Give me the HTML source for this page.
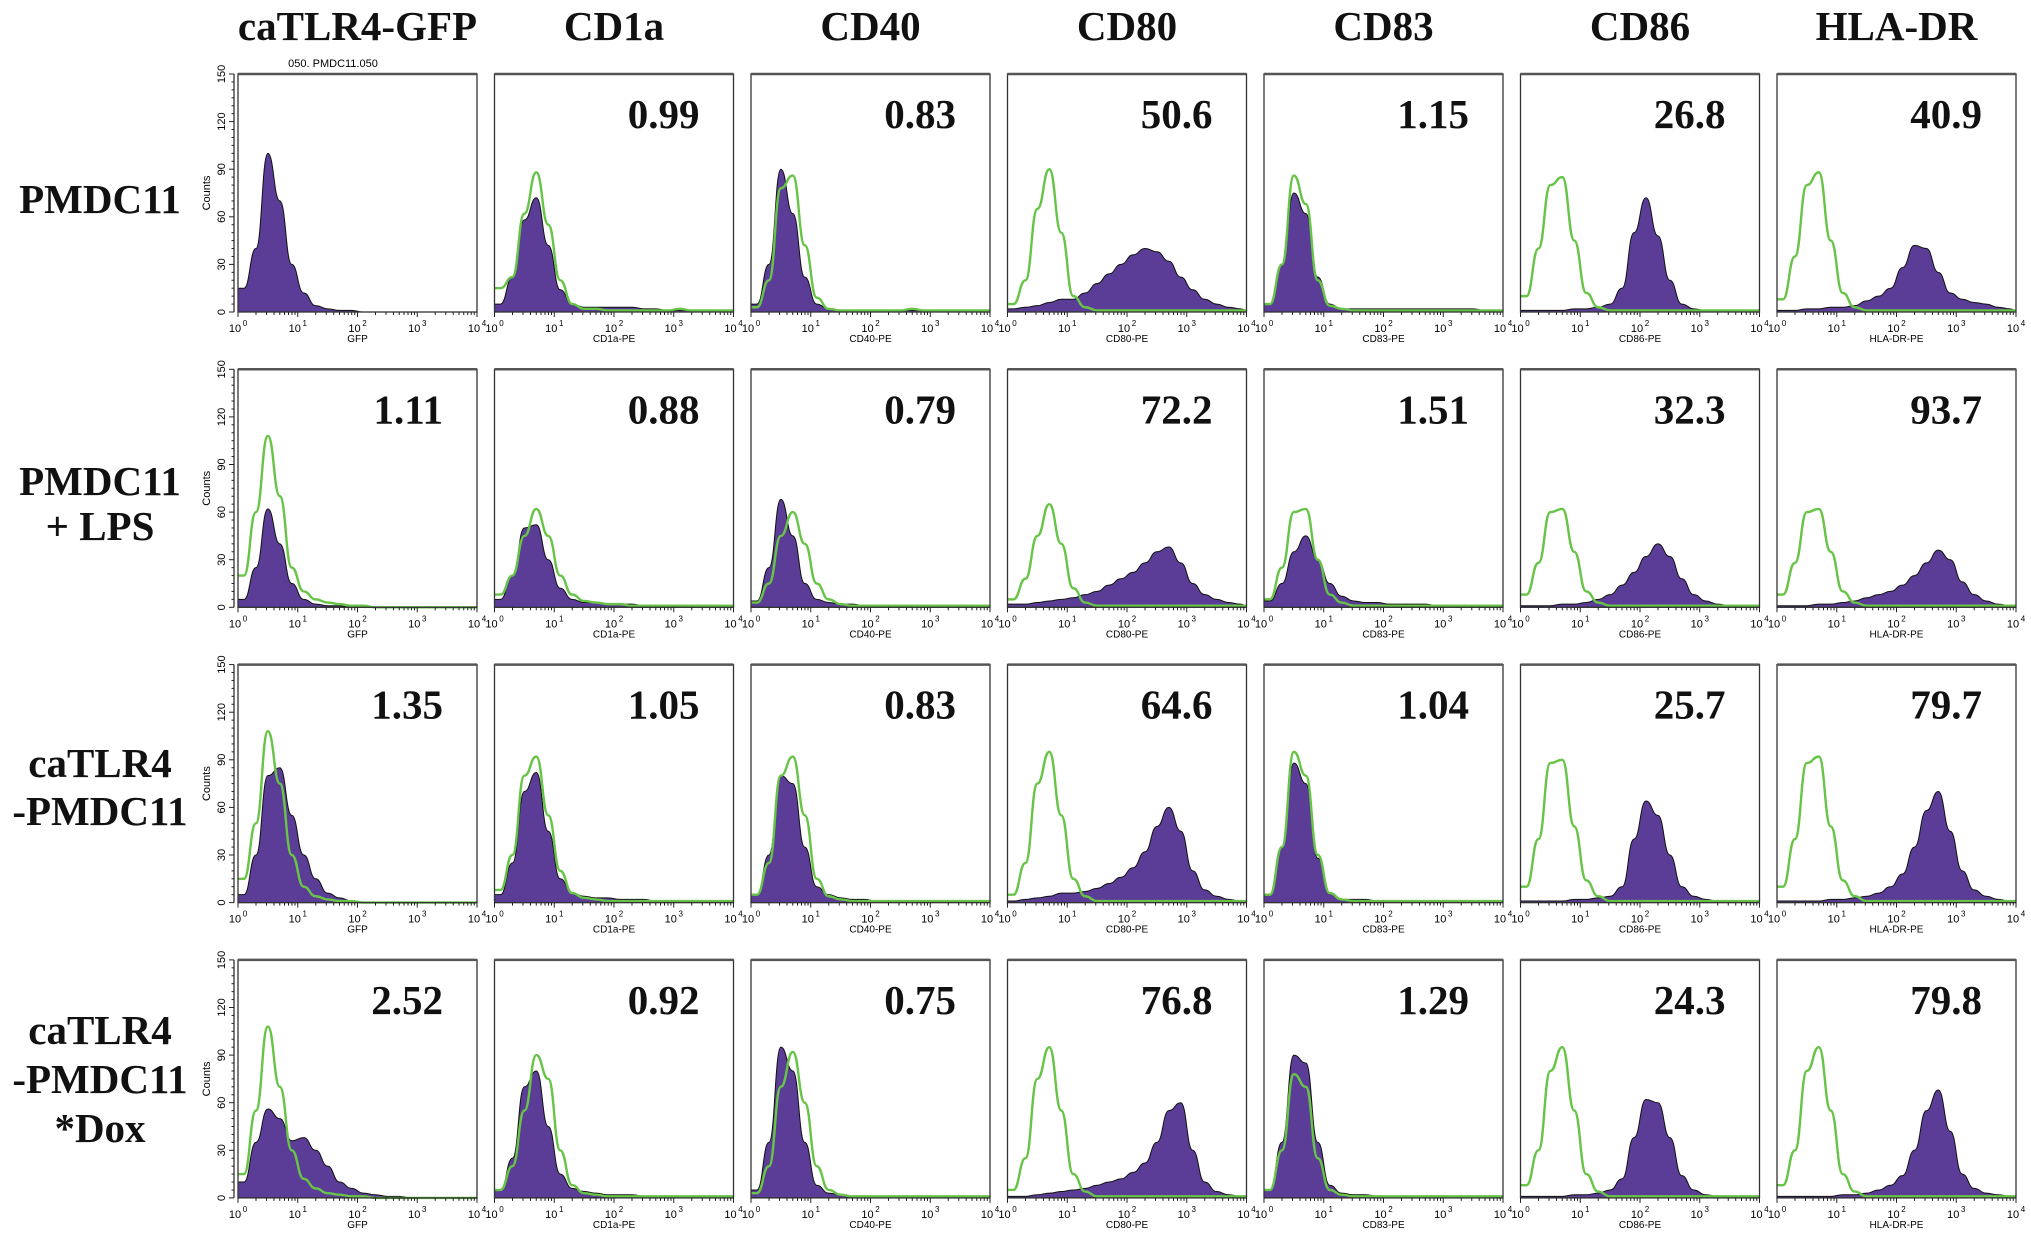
<!DOCTYPE html>
<html><head><meta charset="utf-8">
<style>
html,body{margin:0;padding:0;background:#fff;}
body{width:2031px;height:1247px;overflow:hidden;}
svg text{font-family:"Liberation Sans",sans-serif;}
.big{font-family:"Liberation Serif",serif;font-weight:bold;font-size:41px;fill:#111;}
</style></head>
<body>
<svg id="fig" width="2031" height="1247" viewBox="0 0 2031 1247" xmlns="http://www.w3.org/2000/svg"></svg>
<script>
const markers = ["caTLR4-GFP","CD1a","CD40","CD80","CD83","CD86","HLA-DR"];
const axisNames = ["GFP","CD1a-PE","CD40-PE","CD80-PE","CD83-PE","CD86-PE","HLA-DR-PE"];
const rowLabels = [["PMDC11"],["PMDC11","+ LPS"],["caTLR4","-PMDC11"],["caTLR4","-PMDC11","*Dox"]];
const percents = [
 [null,"0.99","0.83","50.6","1.15","26.8","40.9"],
 ["1.11","0.88","0.79","72.2","1.51","32.3","93.7"],
 ["1.35","1.05","0.83","64.6","1.04","25.7","79.7"],
 ["2.52","0.92","0.75","76.8","1.29","24.3","79.8"]];
const yTicks = [0,30,60,90,120,150];
const xTickLabels = ["0","1","2","3","4"];
// counts at log10 intensity 0.1,0.3,...,4.1
const fillR1 = [
 [15,40,100,70,30,12,4,2,1,1,0,0,0,0,0,0,0,0,0,0,0],
 [5,22,58,72,42,14,5,3,3,3,3,3,2,2,1,1,1,0,0,0,0],
 [5,30,90,62,22,5,2,1,1,1,1,1,1,1,1,1,0,0,0,0,0],
 [2,3,4,6,8,8,12,18,24,30,36,40,38,32,22,14,8,5,3,2,1],
 [5,30,75,62,22,5,2,2,2,2,2,2,2,2,2,2,2,2,1,1,1],
 [1,1,1,1,2,2,3,5,15,50,72,48,20,5,2,1,1,0,0,0,0],
 [1,1,2,2,3,3,4,7,10,15,28,42,40,25,12,8,6,5,3,2,1]];
const greenR1 = [
 null,
 [15,22,62,88,55,20,5,2,2,1,1,1,1,1,1,2,1,1,1,1,1],
 [3,20,78,86,42,9,2,1,1,1,1,1,1,2,1,1,1,1,1,1,1],
 [5,20,65,90,50,10,3,1,1,1,1,1,1,1,1,1,1,1,1,1,1],
 [5,30,86,68,20,4,2,1,1,1,1,1,1,1,1,1,1,1,1,1,1],
 [10,40,80,85,45,12,3,1,1,1,1,1,1,1,1,1,1,1,1,1,1],
 [8,35,80,88,45,12,3,1,1,1,1,1,1,1,1,1,1,1,1,1,1]];
const fillR2 = [
 [5,25,62,40,15,5,2,1,1,0,0,0,0,0,0,0,0,0,0,0,0],
 [5,20,50,52,30,12,5,3,3,2,2,2,1,1,1,1,0,0,0,0,0],
 [4,25,68,45,15,5,3,2,2,1,1,1,1,0,0,0,0,0,0,0,0],
 [2,2,3,4,5,6,8,10,14,18,22,28,35,38,28,15,8,5,3,2,1],
 [4,15,35,45,30,15,7,4,3,3,2,2,2,2,1,1,1,1,1,1,1],
 [1,1,1,2,2,3,5,8,14,22,32,40,32,18,8,4,2,1,1,0,0],
 [1,1,1,2,2,3,4,6,8,10,14,20,28,36,30,16,8,4,2,1,1]];
const greenR2 = [
 [20,60,108,70,25,10,5,3,2,1,1,0,0,0,0,0,0,0,0,0,0],
 [8,20,45,62,45,20,8,4,3,2,2,1,1,1,1,1,1,1,1,1,1],
 [3,15,45,60,40,15,5,2,1,1,1,1,1,1,1,1,1,1,1,1,1],
 [5,18,45,65,40,12,3,1,1,1,1,1,1,1,1,1,1,1,1,1,1],
 [5,25,60,62,30,8,3,1,1,1,1,1,1,1,1,1,1,1,1,1,1],
 [8,28,60,62,35,10,3,1,1,1,1,1,1,1,1,1,1,1,1,1,1],
 [8,28,60,62,35,10,3,1,1,1,1,1,1,1,1,1,1,1,1,1,1]];
const fillR3 = [
 [5,30,80,85,55,30,15,6,3,1,0,0,0,0,0,0,0,0,0,0,0],
 [5,25,70,82,45,15,6,4,3,3,2,2,2,1,1,1,1,0,0,0,0],
 [5,30,80,75,35,10,5,3,2,2,1,1,1,1,1,0,0,0,0,0,0],
 [1,2,3,4,6,6,7,9,12,16,22,32,48,60,45,20,8,4,2,1,1],
 [5,35,88,75,28,6,2,2,2,1,1,1,1,1,1,1,1,1,1,1,1],
 [1,1,1,1,2,2,3,4,10,40,64,55,30,10,4,2,1,1,0,0,0],
 [1,1,1,1,2,2,3,4,6,10,18,35,58,70,45,20,8,4,2,1,1]];
const greenR3 = [
 [15,50,108,75,30,10,4,2,1,1,0,0,0,0,0,0,0,0,0,0,0],
 [8,30,80,92,55,20,6,3,2,1,1,1,1,1,1,1,1,1,1,1,1],
 [5,25,80,92,55,15,4,2,1,1,1,1,1,1,1,1,1,1,1,1,1],
 [5,25,75,95,55,15,4,1,1,1,1,1,1,1,1,1,1,1,1,1,1],
 [5,35,95,80,30,6,2,1,1,1,1,1,1,1,1,1,1,1,1,1,1],
 [10,40,88,90,48,14,4,1,1,1,1,1,1,1,1,1,1,1,1,1,1],
 [10,40,88,92,48,14,4,1,1,1,1,1,1,1,1,1,1,1,1,1,1]];
const fillR4 = [
 [10,35,56,50,36,38,30,20,10,6,3,2,1,1,0,0,0,0,0,0,0],
 [5,25,70,80,45,15,6,4,3,2,2,2,1,1,1,1,0,0,0,0,0],
 [5,35,95,80,35,8,3,2,1,1,1,1,1,1,0,0,0,0,0,0,0],
 [1,1,2,3,4,5,6,8,10,12,16,22,35,55,60,30,10,4,2,1,1],
 [5,35,90,85,35,8,3,2,2,1,1,1,1,1,1,1,1,1,1,1,1],
 [1,1,1,1,2,2,3,5,12,38,62,60,38,14,5,2,1,1,0,0,0],
 [1,1,1,1,1,2,2,3,5,8,14,30,55,68,42,15,6,3,2,1,1]];
const greenR4 = [
 [15,55,108,70,30,12,6,3,2,1,1,0,0,0,0,0,0,0,0,0,0],
 [5,20,55,90,75,30,8,3,2,1,1,1,1,1,1,1,1,1,1,1,1],
 [3,20,70,92,60,20,5,2,1,1,1,1,1,1,1,1,1,1,1,1,1],
 [5,25,75,95,55,15,4,1,1,1,1,1,1,1,1,1,1,1,1,1,1],
 [5,30,78,70,25,5,2,1,1,1,1,1,1,1,1,1,1,1,1,1,1],
 [8,30,80,95,55,15,4,1,1,1,1,1,1,1,1,1,1,1,1,1,1],
 [8,30,80,95,55,15,4,1,1,1,1,1,1,1,1,1,1,1,1,1,1]];
const fills = [fillR1, fillR2, fillR3, fillR4];
const greens = [greenR1, greenR2, greenR3, greenR4];

const NS = "http://www.w3.org/2000/svg";
const svg = document.getElementById('fig');
const L0 = 238, CSTEP = 256.5, PW = 239, T0 = 74, RSTEP = 295.3, PH = 238;
function mk(tag, attrs, parent){const e=document.createElementNS(NS,tag);for(const k in attrs)e.setAttribute(k,attrs[k]);(parent||svg).appendChild(e);return e;}
function xScale(c, logv){return L0 + c*CSTEP + Math.max(0,Math.min(4,logv))/4*PW;}
function yScale(r, v){return T0 + r*RSTEP + PH - v/150*PH;}
function pathFor(r,c,arr,close){
  const pts = arr.map((v,i)=>[xScale(c,0.1+i*0.2), yScale(r,v)]);
  pts.unshift([xScale(c,0), yScale(r,arr[0])]);
  let d = "M"+pts[0][0]+","+pts[0][1];
  for(let i=1;i<pts.length;i++){
    const p0=pts[i-1], p1=pts[i];
    const mx=(p0[0]+p1[0])/2;
    d += " C"+mx+","+p0[1]+" "+mx+","+p1[1]+" "+p1[0]+","+p1[1];
  }
  if(close){d += " L"+xScale(c,4)+","+yScale(r,0)+" L"+xScale(c,0)+","+yScale(r,0)+" Z";}
  return d;
}

markers.forEach((m,c)=>{
  const t = mk('text',{x:L0+c*CSTEP+PW/2, y:40, 'text-anchor':'middle', class:'big'});
  
  
  t.textContent = m;
});
const rowBase = [[213],[495,540],[777,825],[1044,1093,1142]];
rowLabels.forEach((lines,r)=>{
  lines.forEach((ln,k)=>{
    const t = mk('text',{x:100, y:rowBase[r][k], 'text-anchor':'middle', class:'big'});
    
    
    t.textContent = ln;
  });
});
const sub = mk('text',{x:333, y:67, 'text-anchor':'middle','font-size':'11'});


sub.textContent = "050. PMDC11.050";

for(let r=0;r<4;r++){
  const ya = mk('g',{});
  
  
  const x0 = L0 - 4;
  mk('line',{x1:x0,y1:yScale(r,0),x2:x0,y2:yScale(r,150),stroke:'#222','stroke-width':1.2},ya);
  for(let v=0; v<=150; v+=5){
    const major = yTicks.indexOf(v)>=0;
    mk('line',{x1:x0-(major?5:2.5),y1:yScale(r,v),x2:x0,y2:yScale(r,v),stroke:'#222','stroke-width':1},ya);
  }
  yTicks.forEach(v=>{
    const yy=yScale(r,v);
    const t=mk('text',{x:0,y:0,'font-size':'11','text-anchor':'middle',transform:'translate(225,'+yy+') rotate(-90)'},ya);
    t.textContent=v;
  });
  const ct=mk('text',{x:0,y:0,'font-size':'11','text-anchor':'middle',transform:'translate(210,'+yScale(r,75)+') rotate(-90)'},ya);
  ct.textContent='Counts';

  for(let c=0;c<7;c++){
    const g = mk('g',{});
    
    
    const fa = fills[r][c];
    const ga = greens[r][c];
    const fp = mk('path',{d:pathFor(r,c,fa,true), fill:'#5b3d97', stroke:'#111','stroke-width':1},g);
    
    
    if(ga){
      const gp = mk('path',{d:pathFor(r,c,ga,false), fill:'none', stroke:'#67c447','stroke-width':2.4},g);
      
      
    }
    const left = xScale(c,0), top=yScale(r,150), bot=yScale(r,0);
    mk('rect',{x:left,y:top,width:PW,height:PH,fill:'none',stroke:'#333','stroke-width':1.3},g);
    mk('line',{x1:left,y1:top,x2:left+PW,y2:top,stroke:'#555','stroke-width':2.5},g);
    for(let d=0; d<4; d++){
      for(let k=1;k<10;k++){
        const xx = xScale(c, d+Math.log10(k));
        mk('line',{x1:xx,y1:bot,x2:xx,y2:bot+(k===1?5:3),stroke:'#222','stroke-width':1},g);
      }
    }
    mk('line',{x1:xScale(c,4),y1:bot,x2:xScale(c,4),y2:bot+5,stroke:'#222','stroke-width':1},g);
    xTickLabels.forEach((e,i)=>{
      const t=mk('text',{x:xScale(c,i)-3,y:bot+20,'font-size':'11','text-anchor':'middle'},g);
      t.textContent='10';
      const s=mk('text',{x:xScale(c,i)+7,y:bot+14,'font-size':'8','text-anchor':'middle'},g);
      s.textContent=e;
    });
    const an=mk('text',{x:left+PW/2,y:bot+30,'font-size':'10','text-anchor':'middle'},g);
    
    
    an.textContent=axisNames[c];
    if(percents[r][c]){
      const pt=mk('text',{x:left+PW-34,y:yScale(r,150)+54,'text-anchor':'end',class:'big'},g);
      
      
      pt.textContent=percents[r][c];
    }
  }
}
</script>
</body></html>
